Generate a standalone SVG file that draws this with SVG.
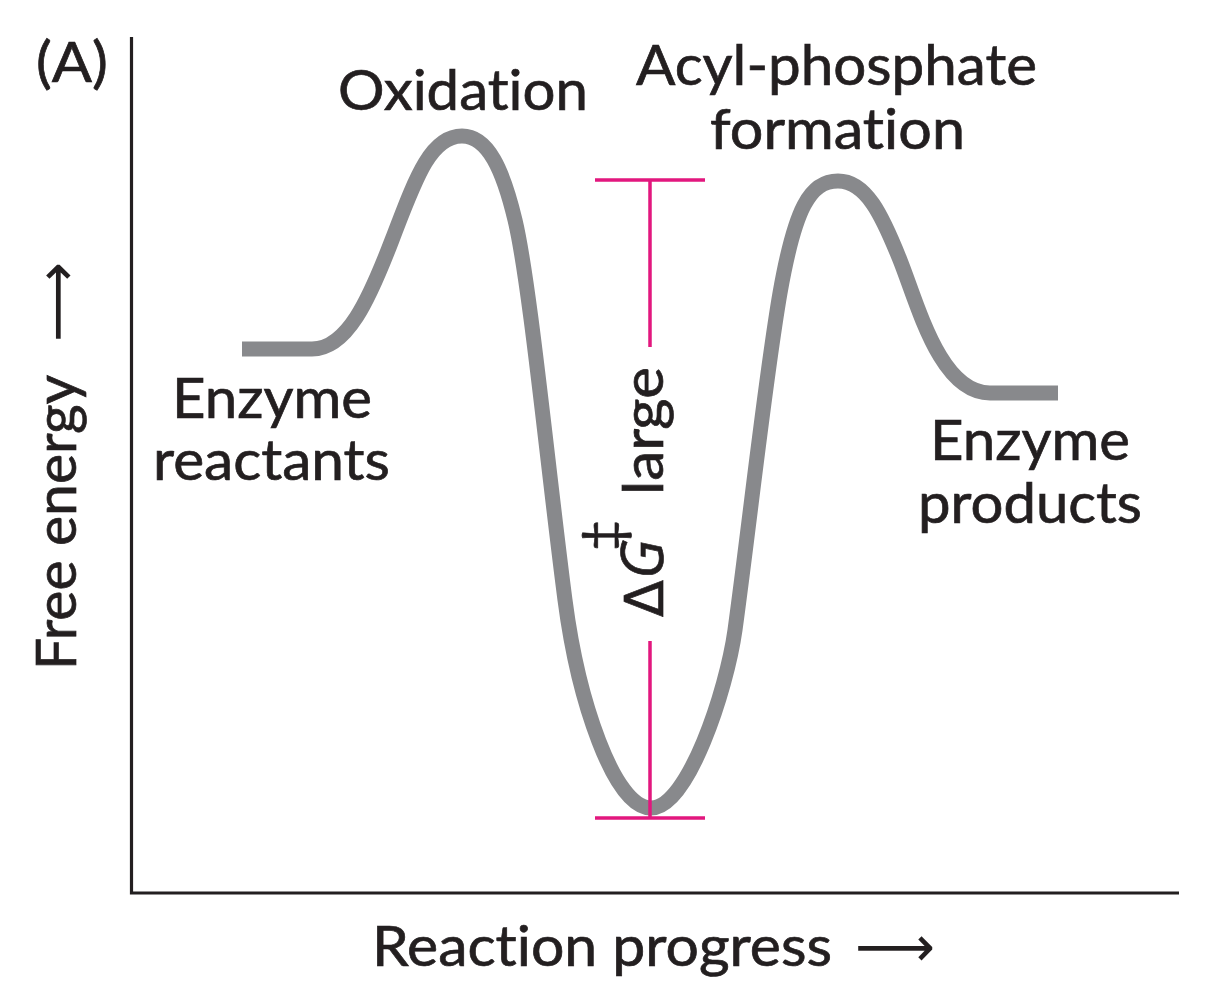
<svg xmlns="http://www.w3.org/2000/svg" width="1212" height="1000" viewBox="0 0 1212 1000">
<style>
  text { font-family: Lato, "Open Sans", "DejaVu Sans", sans-serif; font-size: 57px; fill: #231f20; stroke: #231f20; stroke-width: 0.7px; font-variant-ligatures: none; }
  .arrow { font-family: "DejaVu Sans", sans-serif; stroke-width: 0; }
  .ital { font-family: "Open Sans", "Liberation Sans", sans-serif; font-style: italic; }
  .axis { stroke: #231f20; stroke-width: 3.2; fill: none; }
  .curve { stroke: #88898c; stroke-width: 15; fill: none; stroke-linecap: butt; stroke-linejoin: round; }
  .bar { stroke: #e2177e; stroke-width: 3.5; fill: none; }
</style>
<rect width="1212" height="1000" fill="#ffffff"/>

<g id="axes">
  <path class="axis" d="M131.5,37 V893 H1179"/>
</g>

<g id="panel-label">
  <text x="36" y="82" textLength="72" lengthAdjust="spacingAndGlyphs">(A)</text>
</g>

<g id="y-axis-label">
  <text transform="translate(76,670) rotate(-90)" x="0" y="0" textLength="295" lengthAdjust="spacingAndGlyphs">Free energy</text>
  <text class="arrow" transform="translate(76,670) rotate(-90)" x="328" y="0" textLength="80" lengthAdjust="spacingAndGlyphs">⟶</text>
</g>

<g id="x-axis-label">
  <text x="372" y="966" textLength="460" lengthAdjust="spacingAndGlyphs">Reaction progress</text>
  <text class="arrow" x="855" y="966" textLength="80" lengthAdjust="spacingAndGlyphs">⟶</text>
</g>

<g id="energy-curve">
  <path class="curve" d="M242,349 H312 C347,349 369,300 392,240 C415,180 430,136 462,136 C488,136 503,170 515,220 C530,283 548,470 565,600 C578,700 614,808 651,808 C688,808 726.6,690 735,630 C750,520 765,380 780,293 C795,208 810,181 838,181 C866,181 882,215 900,260 C918,305 940,393 990,393 H1058"/>
</g>

<g id="node-reactants">
  <text x="172" y="418" textLength="200" lengthAdjust="spacingAndGlyphs">Enzyme</text>
  <text x="153" y="480" textLength="237" lengthAdjust="spacingAndGlyphs">reactants</text>
</g>

<g id="node-oxidation">
  <text x="338" y="110" textLength="250" lengthAdjust="spacingAndGlyphs">Oxidation</text>
</g>

<g id="node-acyl-phosphate">
  <text x="636" y="85" textLength="401" lengthAdjust="spacingAndGlyphs">Acyl-phosphate</text>
  <text x="710" y="149" textLength="255" lengthAdjust="spacingAndGlyphs">formation</text>
</g>

<g id="node-products">
  <text x="930" y="460" textLength="200" lengthAdjust="spacingAndGlyphs">Enzyme</text>
  <text x="918" y="523" textLength="224" lengthAdjust="spacingAndGlyphs">products</text>
</g>

<g id="connectors">
  <path class="bar" d="M595,180 H705 M650,180 V347 M650,641 V818 M595,818 H705"/>
</g>

<g id="activation-label">
  <text transform="translate(663,617) rotate(-90)"><tspan x="0" y="0" font-family="DejaVu Sans, sans-serif" font-size="54">Δ</tspan><tspan class="ital" x="38" y="0" font-size="58">G</tspan><tspan x="66" y="-41" font-size="54">‡</tspan><tspan x="122" y="0" textLength="128" lengthAdjust="spacingAndGlyphs">large</tspan></text>
</g>
</svg>
